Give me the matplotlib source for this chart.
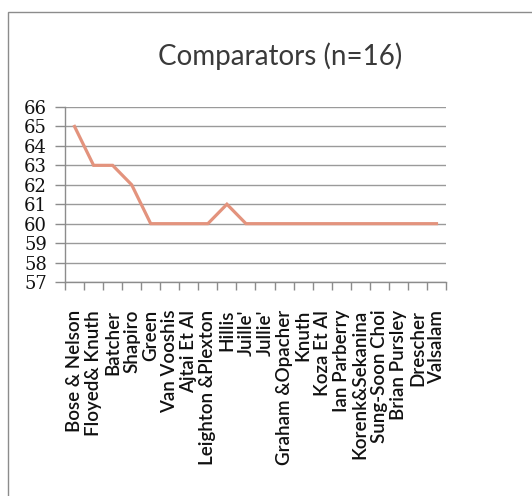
import matplotlib
matplotlib.use("Agg")
import matplotlib.pyplot as plt
from matplotlib.patches import Rectangle
from matplotlib.ticker import FixedLocator

# Comparator counts for 16-input sorting networks
names = [
    "Bose & Nelson", "Floyed& Knuth", "Batcher", "Shapiro", "Green",
    "Van Vooshis", "Ajtai Et Al", "Leighton &Plexton", "Hillis", "Juille'",
    "Jullie'", "Graham &Opacher", "Knuth", "Koza Et Al", "Ian Parberry",
    "Korenk&Sekanina", "Sung-Soon Choi", "Brian Pursley", "Drescher", "Valsalam",
]
comparators = [65, 63, 63, 62, 60, 60, 60, 60, 61, 60,
               60, 60, 60, 60, 60, 60, 60, 60, 60, 60]
y_ticks = [57, 58, 59, 60, 61, 62, 63, 64, 65, 66]

W, H = 532, 496
fig = plt.figure(figsize=(W / 100, H / 100), dpi=100)
fig.patch.set_facecolor("white")

# outer chart frame
fig.patches.append(Rectangle((8 / W, -0.05), 1.2, (H - 12) / H + 0.05,
                             transform=fig.transFigure, fill=False,
                             edgecolor="#8c8c8c", linewidth=1.0))

ax = fig.add_axes([65 / W, (H - 282) / H, (446 - 65) / W, (282 - 107) / H])
x = list(range(len(names)))
ax.plot(x, comparators, color="#e3937d", linewidth=2.3,
        solid_joinstyle="miter", zorder=3)

ax.set_xlim(-0.5, len(names) - 0.5)
ax.set_ylim(57, 66)
ax.set_yticks(y_ticks)
ax.set_yticklabels([str(v) for v in y_ticks], family="DejaVu Serif",
                   fontsize=13, color="#111111")
ax.yaxis.grid(True, color="#9a9a9a", linewidth=1.0)
ax.set_axisbelow(True)

ax.set_xticks(x)
ax.set_xticklabels(names, rotation=90, family="Lato", fontweight="semibold",
                   fontsize=13.5, color="#111111", va="top", ha="center")
ax.tick_params(axis="x", which="major", length=0, pad=20)
ax.xaxis.set_minor_locator(FixedLocator([i - 0.5 for i in range(len(names) + 1)]))
ax.tick_params(axis="x", which="minor", length=6, color="#8c8c8c", width=1.0,
               direction="out")
ax.tick_params(axis="y", length=7, color="#8c8c8c", width=1.0, pad=6)

for side in ("top", "right"):
    ax.spines[side].set_visible(False)
for side in ("left", "bottom"):
    ax.spines[side].set_color("#8c8c8c")
    ax.spines[side].set_linewidth(1.0)

fig.text(280 / W, (H - 56) / H, "Comparators (n=16)", family="Lato",
         fontsize=20, color="#3a3a3a", ha="center", va="center")

fig.savefig("out.png", dpi=100, facecolor="white")
